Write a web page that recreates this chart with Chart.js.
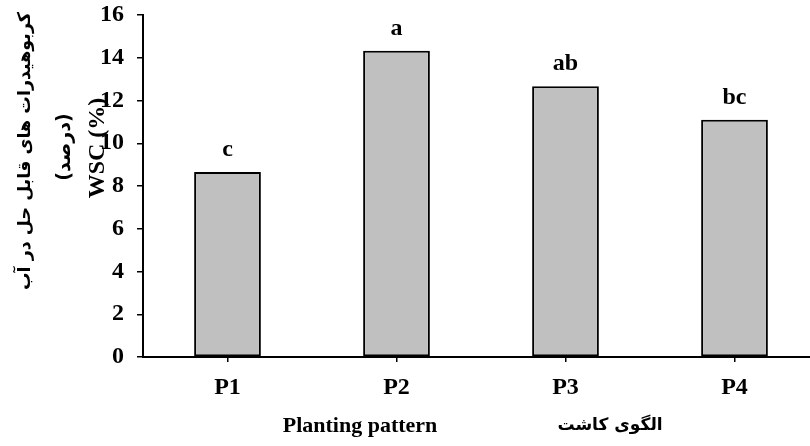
<!DOCTYPE html>
<html>
<head>
<meta charset="utf-8">
<script src="https://cdn.jsdelivr.net/npm/chart.js@4"></script>
<style>
html,body{margin:0;padding:0;background:#fff;overflow:hidden;}
#wrap{position:relative;width:830px;height:446px;}
</style>
</head>
<body>
<div id="wrap"><canvas id="c"></canvas></div>
<script>
const categories = ['P1', 'P2', 'P3', 'P4'];
const wscValues = [8.65, 14.33, 12.67, 11.1];
const groupLetters = ['c', 'a', 'ab', 'bc'];
const yTitleFa1 = 'کربوهیدرات های قابل حل در آب';
const yTitleFa2 = '(درصد)';
const yTitleEn = 'WSC (%)';
const xTitleEn = 'Planting pattern';
const xTitleFa = 'الگوی کاشت';

const serif = '"Liberation Serif", "Times New Roman", serif';
const sansFa = '"DejaVu Sans", sans-serif';

const annotate = {
  id: 'annotate',
  afterDatasetsDraw(chart) {
    const ctx = chart.ctx;
    const meta = chart.getDatasetMeta(0);
    ctx.save();
    ctx.fillStyle = '#000';
    ctx.textAlign = 'center';
    ctx.textBaseline = 'alphabetic';
    ctx.font = 'bold 24px ' + serif;
    meta.data.forEach((bar, i) => {
      ctx.fillText(groupLetters[i], bar.x, bar.y - 16);
    });
    ctx.restore();
  },
  afterDraw(chart) {
    const ctx = chart.ctx;
    ctx.save();
    ctx.fillStyle = '#000';
    ctx.textAlign = 'center';
    ctx.textBaseline = 'middle';
    ctx.save();
    ctx.translate(25, 151);
    ctx.rotate(-Math.PI / 2);
    ctx.font = 'bold 17.5px ' + sansFa;
    ctx.direction = 'rtl';
    ctx.fillText(yTitleFa1, 0, 0);
    ctx.restore();
    ctx.save();
    ctx.translate(65, 147);
    ctx.rotate(-Math.PI / 2);
    ctx.font = 'bold 19px ' + sansFa;
    ctx.direction = 'rtl';
    ctx.fillText(yTitleFa2, 0, 0);
    ctx.restore();
    ctx.save();
    ctx.translate(98, 148);
    ctx.rotate(-Math.PI / 2);
    ctx.font = 'bold 24px ' + serif;
    ctx.fillText(yTitleEn, 0, 0);
    ctx.restore();
    ctx.font = 'bold 22px ' + serif;
    ctx.fillText(xTitleEn, 360, 426);
    ctx.font = 'bold 17px ' + sansFa;
    ctx.direction = 'rtl';
    ctx.fillText(xTitleFa, 610, 426);
    ctx.restore();
  }
};

new Chart(document.getElementById('c'), {
  type: 'bar',
  data: {
    labels: categories,
    datasets: [{
      data: wscValues,
      backgroundColor: '#c0c0c0',
      borderColor: '#000',
      borderWidth: 2,
      borderSkipped: false,
      barPercentage: 0.395,
      categoryPercentage: 1.0
    }]
  },
  options: {
    responsive: true,
    maintainAspectRatio: false,
    animation: false,
    devicePixelRatio: 1,
    layout: { padding: { left: 0, top: 15, right: 11, bottom: 0 } },
    plugins: { legend: { display: false }, tooltip: { enabled: false } },
    scales: {
      x: {
        grid: { drawOnChartArea: false, drawTicks: true, tickLength: 5, color: '#000', lineWidth: 1.5, offset: false },
        border: { display: true, color: '#000', width: 2 },
        ticks: { color: '#000', font: { family: serif, size: 24, weight: 'bold' }, padding: 11 },
        afterFit(s) { s.height = 89; s.paddingLeft = 0; s.paddingRight = 0; }
      },
      y: {
        min: 0, max: 16,
        grid: { drawOnChartArea: false, drawTicks: true, tickLength: 6, color: '#000', lineWidth: 1.5 },
        border: { display: true, color: '#000', width: 2 },
        ticks: { stepSize: 2, color: '#000', font: { family: serif, size: 24, weight: 'bold' }, padding: 13 },
        afterFit(s) { s.width = 143; s.paddingTop = 0; s.paddingBottom = 0; }
      }
    }
  },
  plugins: [annotate]
});
</script>
</body>
</html>
